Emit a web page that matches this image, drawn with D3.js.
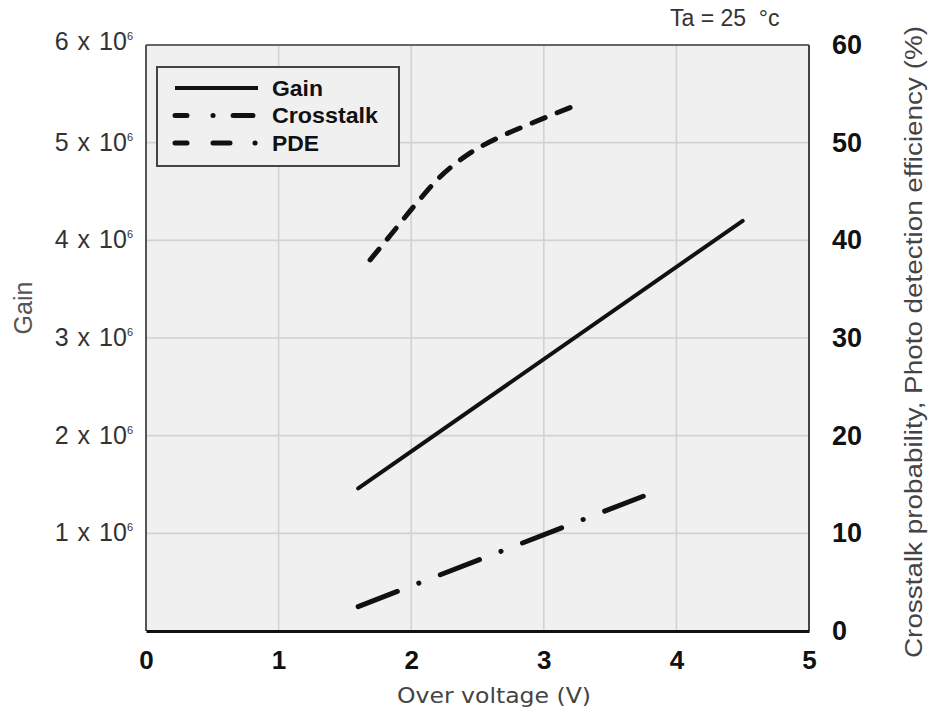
<!DOCTYPE html>
<html>
<head>
<meta charset="utf-8">
<script src="https://cdn.jsdelivr.net/npm/d3@7"></script>
<style>
  html, body { margin: 0; padding: 0; background: #fff; }
  svg { display: block; }
</style>
</head>
<body>
<svg id="chart" width="930" height="715"></svg>
<script>
// Over-voltage characteristics (Ta = 25 °C)
const gainVoltage = [1.6, 4.5];
const gainValues = [1.46e6, 4.2e6];

const crosstalkVoltage = [1.6, 3.75];
const crosstalkValues = [2.5, 13.8];

const pdeVoltage = [1.69, 1.86, 2.04, 2.21, 2.44, 2.67, 2.91, 3.2];
const pdeValues = [38.0, 40.8, 43.8, 46.4, 48.9, 50.6, 52.0, 53.6];

const xTicks = [0, 1, 2, 3, 4, 5];
const gainTicks = [1, 2, 3, 4, 5, 6];          // × 10^6
const percentTicks = [0, 10, 20, 30, 40, 50, 60];

const legendNames = ["Gain", "Crosstalk", "PDE"];

const svg = d3.select("#chart");
const plot = { left: 146, right: 809, top: 45, bottom: 631 };

const x = d3.scaleLinear().domain([0, 5]).range([plot.left, plot.right]);
const yGain = d3.scaleLinear().domain([0, 6e6]).range([plot.bottom, plot.top]);
const yPct = d3.scaleLinear().domain([0, 60]).range([plot.bottom, plot.top]);

const sans = "Liberation Sans, Arial, sans-serif";

// plot background
svg.append("rect")
  .attr("x", plot.left).attr("y", plot.top)
  .attr("width", plot.right - plot.left).attr("height", plot.bottom - plot.top)
  .attr("fill", "#f0f0f0");

// grid
const grid = svg.append("g").attr("stroke", "#d2d2d2").attr("stroke-width", 1.6);
grid.selectAll("line.v").data(xTicks.slice(1, -1)).join("line")
  .attr("x1", d => x(d)).attr("x2", d => x(d))
  .attr("y1", plot.top).attr("y2", plot.bottom);
grid.selectAll("line.h").data(percentTicks.slice(1, -1)).join("line")
  .attr("x1", plot.left).attr("x2", plot.right)
  .attr("y1", d => yPct(d)).attr("y2", d => yPct(d));

// frame
svg.append("line").attr("x1", plot.left).attr("x2", plot.right)
  .attr("y1", plot.top).attr("y2", plot.top)
  .attr("stroke", "#666").attr("stroke-width", 2);
svg.append("line").attr("x1", plot.left).attr("x2", plot.left)
  .attr("y1", plot.top).attr("y2", plot.bottom)
  .attr("stroke", "#555").attr("stroke-width", 2);
svg.append("line").attr("x1", plot.right).attr("x2", plot.right)
  .attr("y1", plot.top).attr("y2", plot.bottom)
  .attr("stroke", "#444").attr("stroke-width", 2);

// x axis
const xAxis = svg.append("g")
  .attr("transform", `translate(0,${plot.bottom})`)
  .call(d3.axisBottom(x).tickValues(xTicks).tickSize(0).tickPadding(20).tickFormat(d3.format("d")));
xAxis.select(".domain").attr("stroke", "#111").attr("stroke-width", 3.2);
xAxis.selectAll("text")
  .attr("font-family", sans)
  .attr("font-weight", "bold").attr("font-size", 26).attr("fill", "#111");

// left axis (gain)
const yAxisL = svg.append("g")
  .attr("transform", `translate(${plot.left},0)`)
  .call(d3.axisLeft(yGain).tickValues(gainTicks.map(d => d * 1e6)).tickSize(0).tickPadding(13).tickFormat(""));
yAxisL.select(".domain").remove();
yAxisL.selectAll(".tick text").each(function (d) {
  const t = d3.select(this)
    .attr("font-family", sans)
    .attr("font-size", 25).attr("fill", "#333")
    .attr("word-spacing", 2)
    .attr("dy", d === 6e6 ? "0.18em" : "0.3em");
  t.append("tspan").text(`${d / 1e6} x 10`);
  t.append("tspan").text("6").attr("font-size", 11).attr("dy", "-0.9em");
});

// right axis (percent)
const yAxisR = svg.append("g")
  .attr("transform", `translate(${plot.right},0)`)
  .call(d3.axisRight(yPct).tickValues(percentTicks).tickSize(0).tickPadding(23).tickFormat(d3.format("d")));
yAxisR.select(".domain").remove();
yAxisR.selectAll("text")
  .attr("font-family", sans)
  .attr("font-weight", "bold").attr("font-size", 27).attr("fill", "#111");

// axis titles
svg.append("text")
  .attr("x", 494).attr("y", 703).attr("text-anchor", "middle")
  .attr("font-family", "DejaVu Sans, Verdana, sans-serif").attr("font-size", 22).attr("fill", "#444")
  .attr("textLength", 194).attr("lengthAdjust", "spacingAndGlyphs")
  .text("Over voltage (V)");
svg.append("text")
  .attr("transform", "translate(32,308) rotate(-90)").attr("text-anchor", "middle")
  .attr("font-family", sans).attr("font-size", 25).attr("fill", "#555")
  .text("Gain");
svg.append("text")
  .attr("transform", "translate(922,342) rotate(-90)").attr("text-anchor", "middle")
  .attr("font-family", sans).attr("font-size", 23).attr("fill", "#444")
  .attr("textLength", 632).attr("lengthAdjust", "spacingAndGlyphs")
  .text("Crosstalk probability,  Photo detection efficiency (%)");
svg.append("text")
  .attr("x", 670).attr("y", 26)
  .attr("font-family", sans).attr("font-size", 23).attr("fill", "#333")
  .attr("xml:space", "preserve")
  .text("Ta = 25  °c");

// curves
const gainLine = d3.line().x(d => x(d[0])).y(d => yGain(d[1]));
const pctLine = d3.line().x(d => x(d[0])).y(d => yPct(d[1]));
const pdeLine = d3.line().x(d => x(d[0])).y(d => yPct(d[1])).curve(d3.curveMonotoneX);

svg.append("path")
  .datum(d3.zip(gainVoltage, gainValues))
  .attr("d", gainLine)
  .attr("fill", "none").attr("stroke", "#111").attr("stroke-width", 4).attr("stroke-linecap", "round");

svg.append("path")
  .datum(d3.zip(crosstalkVoltage, crosstalkValues))
  .attr("d", pctLine)
  .attr("fill", "none").attr("stroke", "#111").attr("stroke-width", 5)
  .attr("stroke-linecap", "round").attr("stroke-dasharray", "42 23 0.1 23");

svg.append("path")
  .datum(d3.zip(pdeVoltage, pdeValues))
  .attr("d", pdeLine)
  .attr("fill", "none").attr("stroke", "#111").attr("stroke-width", 5)
  .attr("stroke-linecap", "round").attr("stroke-dasharray", "14 13");

// legend
const legend = svg.append("g");
legend.append("rect")
  .attr("x", 157).attr("y", 67).attr("width", 242).attr("height", 99)
  .attr("fill", "#f0f0f0").attr("stroke", "#444").attr("stroke-width", 2);
const legendDash = [null, "12 26 0.1 20 20 200", "12 26 17 25 0.1 200"];
const legendEnd = [258, 253, 256];
const legendTextWidth = [51, 106, 47];
legendNames.forEach((name, i) => {
  const y = 88 + i * 27.5;
  legend.append("line")
    .attr("x1", 175).attr("x2", legendEnd[i]).attr("y1", y).attr("y2", y)
    .attr("stroke", "#111").attr("stroke-width", i === 0 ? 4 : 5)
    .attr("stroke-linecap", i === 0 ? "butt" : "round")
    .attr("stroke-dasharray", legendDash[i]);
  legend.append("text")
    .attr("x", 272).attr("y", y).attr("dy", "0.36em")
    .attr("font-family", sans)
    .attr("font-weight", "bold").attr("font-size", 22).attr("fill", "#111")
    .attr("textLength", legendTextWidth[i]).attr("lengthAdjust", "spacingAndGlyphs")
    .text(name);
});
</script>
</body>
</html>
